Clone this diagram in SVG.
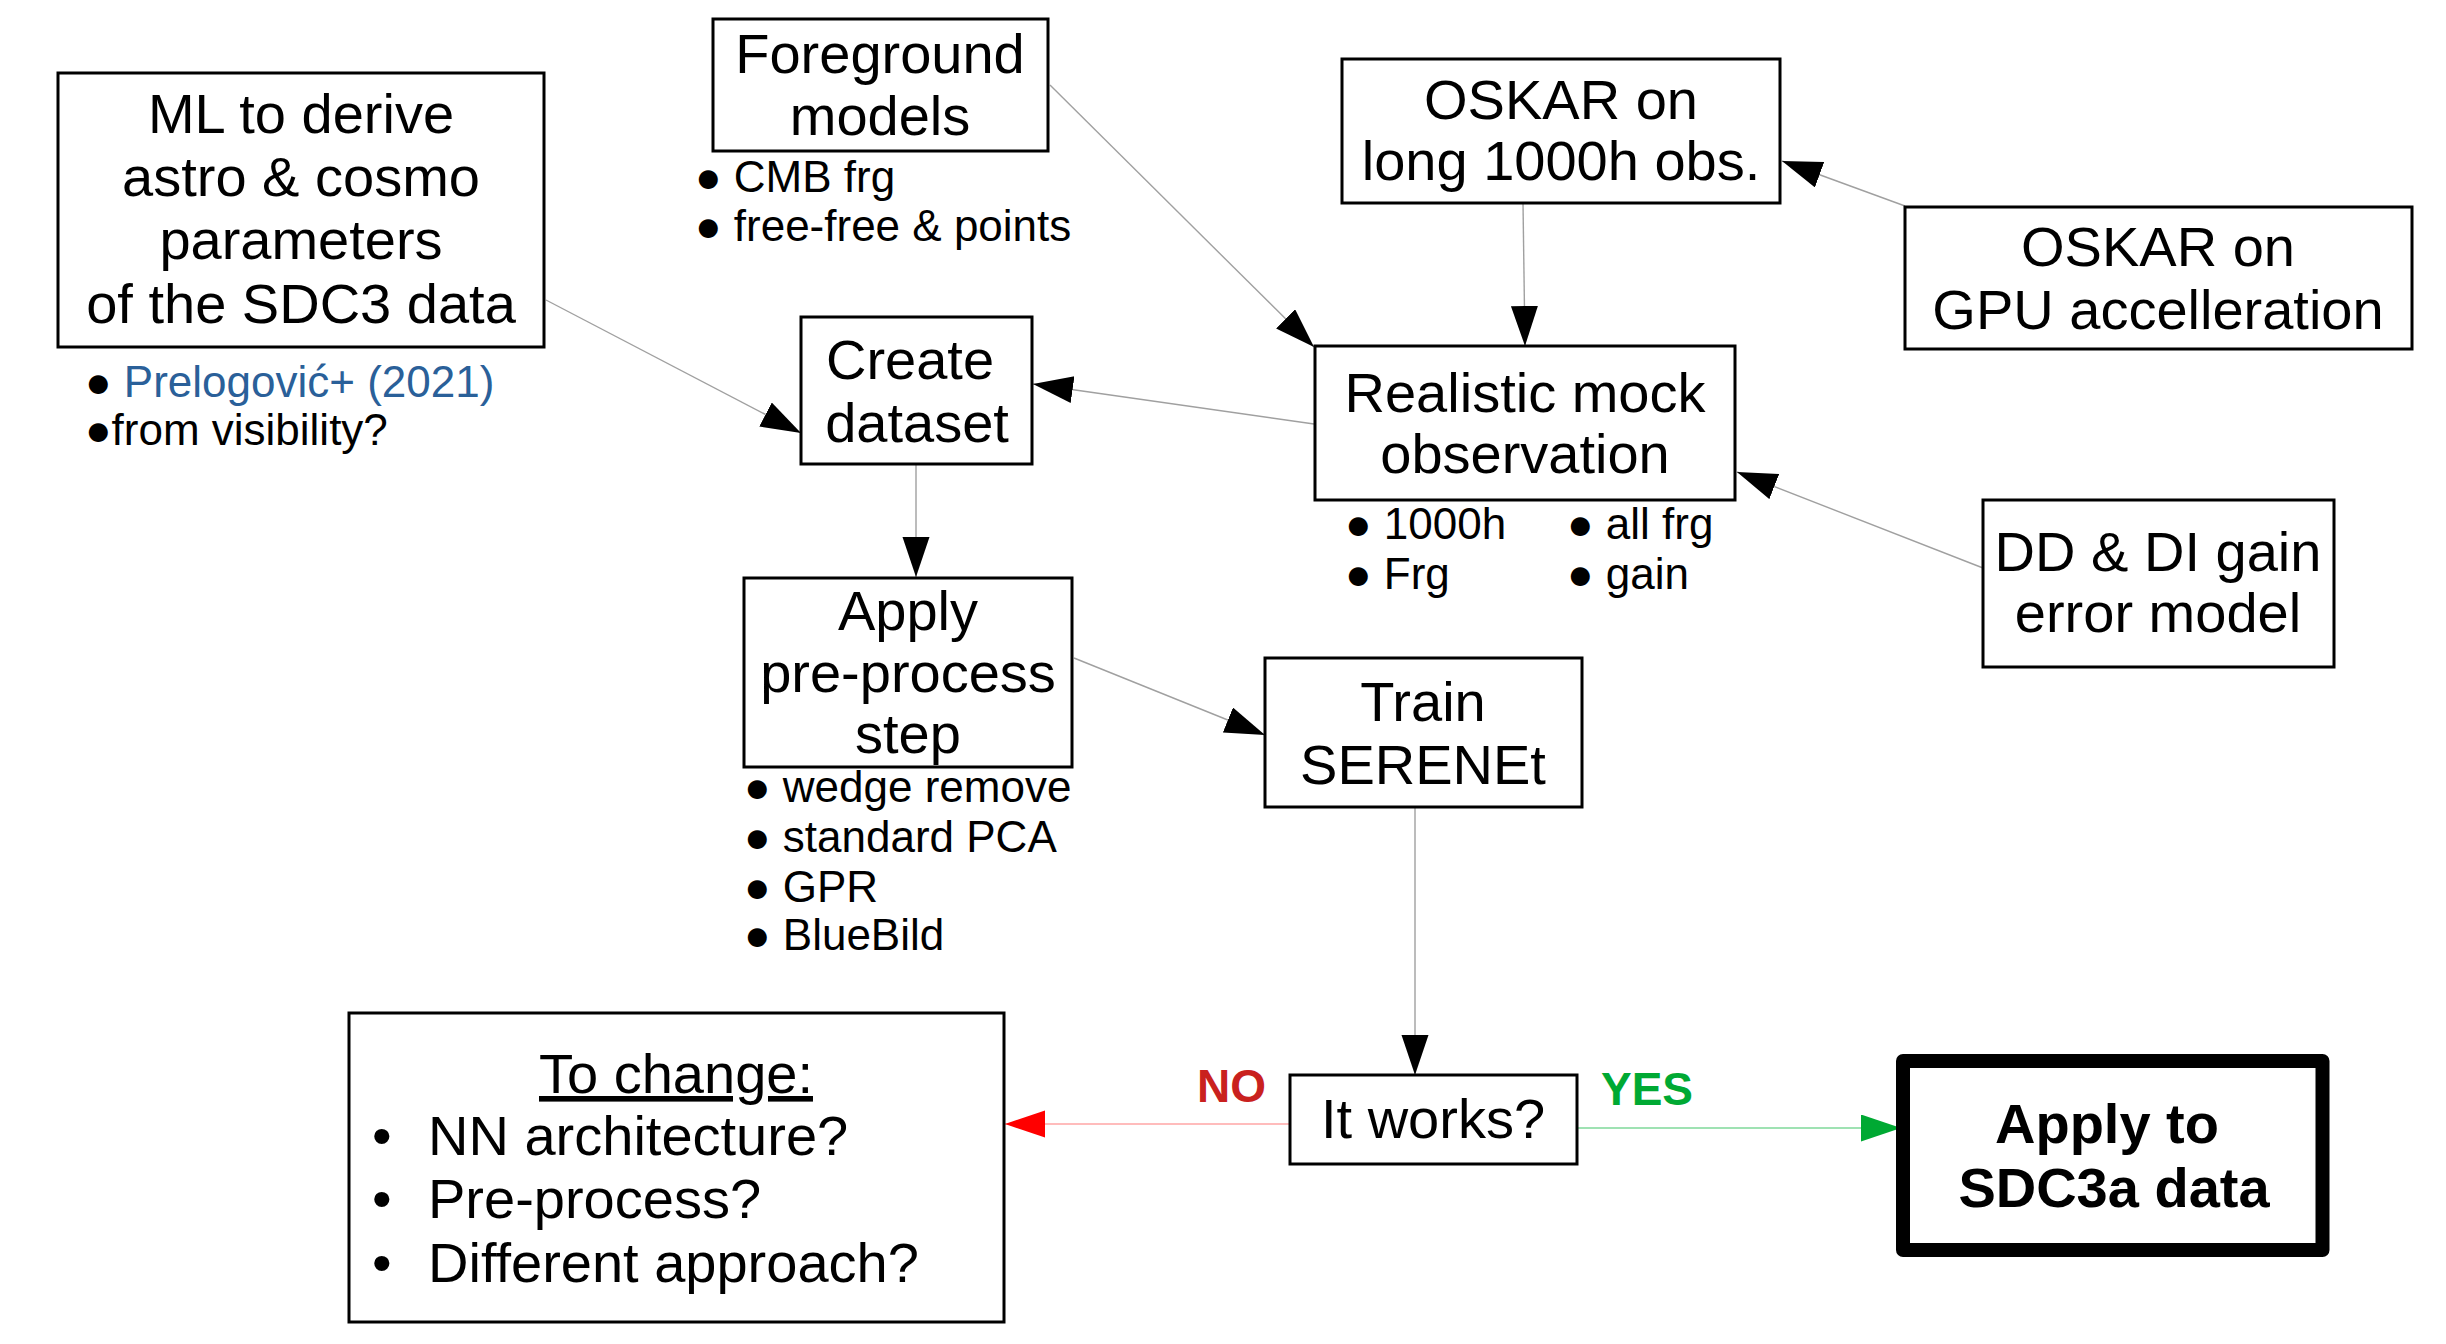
<svg xmlns="http://www.w3.org/2000/svg" width="2446" height="1344" viewBox="0 0 2446 1344">
<style>
.box{fill:#ffffff;stroke:#000000;stroke-width:3}
.t{font-family:"Liberation Sans",Arial,sans-serif;font-size:56px;fill:#000000;text-anchor:middle}
.tl{font-family:"Liberation Sans",Arial,sans-serif;font-size:56px;fill:#000000;text-anchor:start}
.b{font-family:"Liberation Sans",Arial,sans-serif;font-size:44px;fill:#000000}
.c{fill:none;stroke:#a0a0a0;stroke-width:1.4}
.lbl{font-family:"Liberation Sans",Arial,sans-serif;font-size:46px;font-weight:bold}
</style>
<defs>
<marker id="ah" markerUnits="userSpaceOnUse" markerWidth="42" markerHeight="28" refX="40" refY="13.5" orient="auto"><path d="M0,0 L40,13.5 L0,27 z" fill="#000000"/></marker>
<marker id="ahr" markerUnits="userSpaceOnUse" markerWidth="42" markerHeight="28" refX="40" refY="13.5" orient="auto"><path d="M0,0 L40,13.5 L0,27 z" fill="#ff0000"/></marker>
<marker id="ahg" markerUnits="userSpaceOnUse" markerWidth="42" markerHeight="28" refX="40" refY="13.5" orient="auto"><path d="M0,0 L40,13.5 L0,27 z" fill="#00a933"/></marker>
</defs>
<rect width="2446" height="1344" fill="#ffffff"/>
<g id="connectors">
<line class="c" x1="546" y1="300" x2="801" y2="433" marker-end="url(#ah)"/>
<line class="c" x1="1050" y1="85" x2="1314" y2="347" marker-end="url(#ah)"/>
<line class="c" x1="1523" y1="203" x2="1525" y2="346" marker-end="url(#ah)"/>
<line class="c" x1="1905" y1="206" x2="1782" y2="161" marker-end="url(#ah)"/>
<line class="c" x1="1314" y1="424" x2="1033" y2="384" marker-end="url(#ah)"/>
<line class="c" x1="1983" y1="568" x2="1737" y2="472" marker-end="url(#ah)"/>
<line class="c" x1="916" y1="464" x2="916" y2="577" marker-end="url(#ah)"/>
<line class="c" x1="1074" y1="658" x2="1265" y2="735" marker-end="url(#ah)"/>
<line class="c" x1="1415" y1="807" x2="1415" y2="1075" marker-end="url(#ah)"/>
<line x1="1290" y1="1124" x2="1005" y2="1124" stroke="#ffa6a6" stroke-width="1.6" marker-end="url(#ahr)"/>
<line x1="1577" y1="1128" x2="1901" y2="1128" stroke="#7fd99a" stroke-width="1.6" marker-end="url(#ahg)"/>
<text class="lbl" x="1197" y="1102" fill="#c9211e">NO</text>
<text class="lbl" x="1601" y="1105" fill="#00a933">YES</text>
</g>
<g id="ml">
<rect class="box" x="58" y="73" width="486" height="274"/>
<text class="t" x="301" y="133">ML to derive</text>
<text class="t" x="301" y="196">astro &amp; cosmo</text>
<text class="t" x="301" y="259">parameters</text>
<text class="t" x="301" y="323">of the SDC3 data</text>
<text class="b" x="85" y="397">● <tspan fill="#2a6099">Prelogović+ (2021)</tspan></text>
<text class="b" x="85" y="445">●from visibility?</text>
</g>
<g id="foreground">
<rect class="box" x="713" y="19" width="335" height="132"/>
<text class="t" x="880" y="73">Foreground</text>
<text class="t" x="880" y="135">models</text>
<text class="b" x="695" y="192">● CMB frg</text>
<text class="b" x="695" y="241">● free-free &amp; points</text>
</g>
<g id="oskar-long">
<rect class="box" x="1342" y="59" width="438" height="144"/>
<text class="t" x="1561" y="119">OSKAR on</text>
<text class="t" x="1561" y="180">long 1000h obs.</text>
</g>
<g id="oskar-gpu">
<rect class="box" x="1905" y="207" width="507" height="142"/>
<text class="t" x="2158" y="266">OSKAR on</text>
<text class="t" x="2158" y="329">GPU accelleration</text>
</g>
<g id="realistic">
<rect class="box" x="1315" y="346" width="420" height="154"/>
<text class="t" x="1525" y="412">Realistic mock</text>
<text class="t" x="1525" y="473">observation</text>
<text class="b" x="1345" y="539">● 1000h</text>
<text class="b" x="1345" y="589">● Frg</text>
<text class="b" x="1567" y="539">● all frg</text>
<text class="b" x="1567" y="589">● gain</text>
</g>
<g id="dd">
<rect class="box" x="1983" y="500" width="351" height="167"/>
<text class="t" x="2158" y="571">DD &amp; DI gain</text>
<text class="t" x="2158" y="632">error model</text>
</g>
<g id="create">
<rect class="box" x="801" y="317" width="231" height="147"/>
<text class="t" x="910" y="379">Create</text>
<text class="t" x="917" y="442">dataset</text>
</g>
<g id="apply">
<rect class="box" x="744" y="578" width="328" height="189"/>
<text class="t" x="908" y="630">Apply</text>
<text class="t" x="908" y="692">pre-process</text>
<text class="t" x="908" y="753">step</text>
<text class="b" x="744" y="802">● wedge remove</text>
<text class="b" x="744" y="852">● standard PCA</text>
<text class="b" x="744" y="902">● GPR</text>
<text class="b" x="744" y="950">● BlueBild</text>
</g>
<g id="train">
<rect class="box" x="1265" y="658" width="317" height="149"/>
<text class="t" x="1423" y="721">Train</text>
<text class="t" x="1423" y="784">SERENEt</text>
</g>
<g id="itworks">
<rect class="box" x="1290" y="1075" width="287" height="89"/>
<text class="t" x="1433" y="1138">It works?</text>
</g>
<g id="tochange">
<rect class="box" x="349" y="1013" width="655" height="309"/>
<text class="t" x="676" y="1093" text-decoration="underline">To change:</text>
<text class="tl" x="372" y="1155">•</text>
<text class="tl" x="428" y="1155">NN architecture?</text>
<text class="tl" x="372" y="1218">•</text>
<text class="tl" x="428" y="1218">Pre-process?</text>
<text class="tl" x="372" y="1282">•</text>
<text class="tl" x="428" y="1282">Different approach?</text>
</g>
<g id="applysdc">
<rect x="1903" y="1061" width="419.5" height="189" fill="#ffffff" stroke="#000000" stroke-width="14" stroke-linejoin="round"/>
<text class="t" x="2107" y="1143" font-weight="bold">Apply to</text>
<text class="t" x="2114" y="1207" font-weight="bold">SDC3a data</text>
</g>
</svg>
